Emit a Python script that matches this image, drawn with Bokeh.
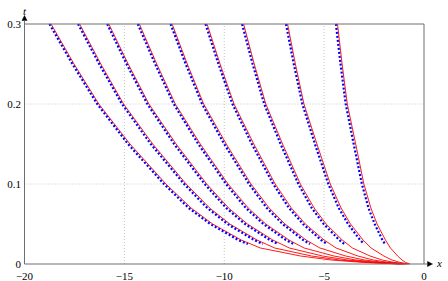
from bokeh.plotting import figure
from bokeh.models import Range1d, Arrow, NormalHead, ColumnDataSource
from bokeh.core.properties import value
from bokeh.embed import file_html
from bokeh.resources import INLINE

# ---------------- data ----------------
x_ticks = [-20, -15, -10, -5, 0]
x_tick_labels = ["\u221220", "\u221215", "\u221210", "\u22125", "0"]
t_ticks = [0, 0.1, 0.2, 0.3]
t_tick_labels = ["0", "0.1", "0.2", "0.3"]

# red (solid) curves: x at the t levels of red_t
red_t = [0.3, 0.25, 0.2, 0.15, 0.1, 0.07, 0.05, 0.03, 0.02, 0.01, 0.005, 0.002, 0.0]
red_1 = [-18.67, -17.52, -16.28, -14.72, -12.92, -11.66, -10.58, -9.15, -8.19, -6.18, -4.65, -3.04, -1.24]
red_2 = [-17.24, -16.18, -15.04, -13.58, -11.91, -10.73, -9.72, -8.36, -7.47, -5.63, -4.24, -2.79, -1.17]
red_3 = [-15.78, -14.81, -13.77, -12.41, -10.88, -9.78, -8.84, -7.57, -6.74, -5.08, -3.84, -2.54, -1.10]
red_4 = [-14.25, -13.38, -12.45, -11.20, -9.81, -8.80, -7.92, -6.76, -6.00, -4.51, -3.42, -2.29, -1.03]
red_5 = [-12.61, -11.85, -11.03, -9.90, -8.66, -7.75, -6.96, -5.90, -5.21, -3.92, -2.98, -2.03, -0.97]
red_6 = [-10.86, -10.21, -9.51, -8.52, -7.45, -6.64, -5.94, -5.00, -4.40, -3.31, -2.54, -1.77, -0.90]
red_7 = [-9.03, -8.50, -7.92, -7.08, -6.19, -5.50, -4.90, -4.09, -3.58, -2.70, -2.09, -1.50, -0.83]
red_8 = [-6.83, -6.44, -6.01, -5.36, -4.69, -4.15, -3.68, -3.05, -2.65, -2.01, -1.60, -1.21, -0.76]
red_9 = [-4.33, -4.10, -3.84, -3.42, -3.01, -2.66, -2.35, -1.93, -1.68, -1.32, -1.10, -0.92, -0.70]

# blue (dotted) curves: x at the t levels of blue_t
blue_t = [0.3, 0.25, 0.2, 0.15, 0.1, 0.07, 0.05, 0.03, 0.025]
blue_1 = [-18.75, -17.60, -16.36, -14.82, -13.02, -11.78, -10.70, -9.30, -8.82]
blue_2 = [-17.32, -16.26, -15.12, -13.68, -12.01, -10.85, -9.84, -8.51, -8.07]
blue_3 = [-15.86, -14.89, -13.85, -12.51, -10.98, -9.90, -8.96, -7.72, -7.31]
blue_4 = [-14.33, -13.46, -12.53, -11.30, -9.91, -8.92, -8.04, -6.91, -6.53]
blue_5 = [-12.69, -11.93, -11.11, -10.00, -8.76, -7.87, -7.08, -6.05, -5.71]
blue_6 = [-10.94, -10.29, -9.59, -8.62, -7.55, -6.76, -6.06, -5.15, -4.85]
blue_7 = [-9.11, -8.58, -8.00, -7.18, -6.29, -5.62, -5.02, -4.24, -3.99]
blue_8 = [-6.91, -6.52, -6.09, -5.46, -4.79, -4.27, -3.80, -3.20, -3.00]
blue_9 = [-4.41, -4.18, -3.92, -3.52, -3.11, -2.78, -2.47, -2.08, -1.95]

red_curves = [red_1, red_2, red_3, red_4, red_5, red_6, red_7, red_8, red_9]
blue_curves = [blue_1, blue_2, blue_3, blue_4, blue_5, blue_6, blue_7, blue_8, blue_9]

# ---------------- layout (pixels) ----------------
W, H = 448, 281
PX_X = 19.975          # pixels per x unit
PX_T = 800.0           # pixels per t unit
LEFT = 24.0            # x = -20 at this figure pixel
BOTTOM = 263.5         # t = 0 at this figure pixel (from top)

x_min, x_max = x_ticks[0], x_ticks[-1]
t_min, t_max = t_ticks[0], t_ticks[-1]
xs0 = x_min - LEFT / PX_X
xs1 = xs0 + W / PX_X
ys0 = t_min - (H - BOTTOM) / PX_T
ys1 = ys0 + H / PX_T

p = figure(width=W, height=H, x_range=Range1d(xs0, xs1), y_range=Range1d(ys0, ys1),
           output_backend="svg", toolbar_location=None,
           x_axis_location=None, y_axis_location=None, min_border=0,
           outline_line_color=None, background_fill_color="white",
           border_fill_color="white")
p.xgrid.visible = False
p.ygrid.visible = False

grid_col = "#c4c4c4"
# grid
gx = x_ticks[1:-1]
p.segment(x0=gx, y0=[t_min] * len(gx), x1=gx, y1=[t_max] * len(gx),
          line_color=grid_col, line_width=1, line_dash="1 2")
gt = t_ticks[1:-1]
p.segment(x0=[x_min] * len(gt), y0=gt, x1=[x_max] * len(gt), y1=gt,
          line_color=grid_col, line_width=1, line_dash="1 2")

# curves
p.multi_line(xs=red_curves, ys=[red_t] * len(red_curves), line_color="#ff0000", line_width=0.9)
p.multi_line(xs=blue_curves, ys=[blue_t] * len(blue_curves), line_color="#0000ff",
             line_width=2.2, line_dash="2 2", line_cap="butt")

# frame (top and right)
axis_col = "#6e6e6e"
p.segment(x0=[x_min, x_max], y0=[t_max, t_min], x1=[x_max, x_max], y1=[t_max, t_max],
          line_color=axis_col, line_width=1)

# axis arrows
tip_x = x_max + 8.5 / PX_X
tip_t = t_max + 8.5 / PX_T
p.add_layout(Arrow(end=NormalHead(size=5, fill_color="black", line_color="black", line_width=0.5),
                   x_start=x_min, y_start=t_min, x_end=tip_x, y_end=t_min,
                   line_color=axis_col, line_width=1))
p.add_layout(Arrow(end=NormalHead(size=5, fill_color="black", line_color="black", line_width=0.5),
                   x_start=x_min, y_start=t_min, x_end=x_min, y_end=tip_t,
                   line_color=axis_col, line_width=1))

font = value("Liberation Serif")
# x tick labels
xl = ColumnDataSource(dict(x=x_ticks, y=[t_min - 12.5 / PX_T] * len(x_ticks), text=x_tick_labels))
p.text(x="x", y="y", text="text", source=xl, text_font=font, text_font_size="11px",
       text_align="center", text_baseline="alphabetic", text_color="black")
# t tick labels
tl = ColumnDataSource(dict(x=[x_min - 3.5 / PX_X] * len(t_ticks), y=t_ticks, text=t_tick_labels))
p.text(x="x", y="y", text="text", source=tl, text_font=font, text_font_size="11px",
       text_align="right", text_baseline="middle", text_color="black")

# axis names
p.text(x=[x_min], y=[t_max + 13.5 / PX_T], text=["t"], text_font=font, text_font_size="11px",
       text_font_style="italic", text_align="center", text_baseline="alphabetic")
p.text(x=[x_max + 15.5 / PX_X], y=[t_min + 1 / PX_T], text=["x"], text_font=font, text_font_size="11px",
       text_font_style="italic", text_align="center", text_baseline="middle")

open("out.html", "w").write(file_html(p, INLINE))
